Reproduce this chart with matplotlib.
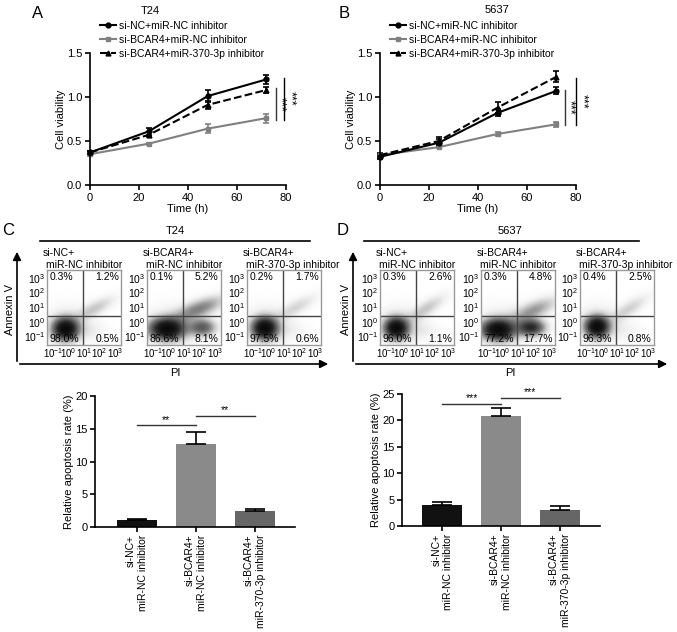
import numpy as np
import matplotlib
matplotlib.use('Agg')
import matplotlib.pyplot as plt
from matplotlib.lines import Line2D
from matplotlib.patches import FancyArrowPatch

plt.rcParams['font.family'] = ['Liberation Sans', 'DejaVu Sans']
plt.rcParams['mathtext.fontset'] = 'custom'
plt.rcParams['mathtext.rm'] = 'Liberation Sans'
plt.rcParams['mathtext.it'] = 'Liberation Sans:italic'
plt.rcParams['mathtext.bf'] = 'Liberation Sans:bold'
plt.rcParams['font.size'] = 8

# ---- data: cell viability (CCK-8) ----
time_h = [0, 24, 48, 72]
group_names = ['si-NC+miR-NC inhibitor', 'si-BCAR4+miR-NC inhibitor',
               'si-BCAR4+miR-370-3p inhibitor']

t24_nc = [0.37, 0.61, 1.01, 1.20]
t24_nc_err = [0.02, 0.04, 0.07, 0.05]
t24_bcar4 = [0.35, 0.47, 0.64, 0.76]
t24_bcar4_err = [0.02, 0.01, 0.05, 0.05]
t24_inh = [0.37, 0.57, 0.91, 1.08]
t24_inh_err = [0.02, 0.03, 0.05, 0.03]

c5637_nc = [0.32, 0.48, 0.82, 1.07]
c5637_nc_err = [0.02, 0.04, 0.04, 0.04]
c5637_bcar4 = [0.34, 0.43, 0.58, 0.69]
c5637_bcar4_err = [0.01, 0.01, 0.02, 0.03]
c5637_inh = [0.34, 0.50, 0.88, 1.23]
c5637_inh_err = [0.02, 0.05, 0.06, 0.06]

# significance spans (x, y from, y to)
t24_sig = [(75.8, 0.74, 1.10), (79.3, 0.74, 1.22)]
c5637_sig = [(75.4, 0.68, 1.08), (80.0, 0.68, 1.22)]

# ---- data: flow cytometry ----
flow_titles = [('si-NC+', 'miR-NC inhibitor'),
               ('si-BCAR4+', 'miR-NC inhibitor'),
               ('si-BCAR4+', 'miR-370-3p inhibitor')]
# quadrant percentages: UL, UR, LL, LR
t24_pct = [['0.3%', '1.2%', '98.0%', '0.5%'],
           ['0.1%', '5.2%', '86.6%', '8.1%'],
           ['0.2%', '1.7%', '97.5%', '0.6%']]
c5637_pct = [['0.3%', '2.6%', '96.0%', '1.1%'],
             ['0.3%', '4.8%', '77.2%', '17.7%'],
             ['0.4%', '2.5%', '96.3%', '0.8%']]
# gate positions (log10)
gate_x = 0.95
gate_y = 0.36
# population clouds (log10 cx, cy, sx, sy, angle deg, weight)
t24_clusters = [
    [(-0.2, -0.5, 0.5, 0.46, 0, 1.0), (-0.1, -0.3, 0.95, 0.85, 0, 0.09),
     (1.7, 0.9, 0.95, 0.32, 30, 0.13), (1.4, -0.6, 0.7, 0.4, 0, 0.04)],
    [(-0.1, -0.5, 0.7, 0.45, 0, 1.0), (0.2, -0.3, 1.1, 0.85, 0, 0.09),
     (2.2, -0.4, 0.55, 0.38, 0, 0.40), (2.0, 0.9, 1.1, 0.38, 22, 0.28)],
    [(-0.25, -0.45, 0.5, 0.46, 0, 1.0), (-0.1, -0.3, 0.95, 0.85, 0, 0.09),
     (1.8, 1.0, 0.95, 0.32, 30, 0.10), (1.5, -0.6, 0.7, 0.4, 0, 0.03)],
]
c5637_clusters = [
    [(-0.35, -0.45, 0.46, 0.44, 0, 1.0), (-0.2, -0.3, 0.95, 0.85, 0, 0.09),
     (1.6, 0.9, 0.95, 0.32, 35, 0.13), (1.4, -0.6, 0.7, 0.4, 0, 0.04)],
    [(-0.3, -0.55, 0.65, 0.44, 0, 1.0), (0.0, -0.3, 1.1, 0.85, 0, 0.09),
     (1.8, -0.4, 0.55, 0.36, 0, 0.65), (2.0, 0.8, 1.0, 0.38, 25, 0.22)],
    [(-0.3, -0.35, 0.46, 0.44, 0, 1.0), (-0.2, -0.2, 0.95, 0.85, 0, 0.09),
     (1.8, 0.9, 0.95, 0.32, 35, 0.11), (1.5, -0.6, 0.7, 0.4, 0, 0.03)],
]

# ---- data: apoptosis rate ----
bar_labels = ['si-NC+\nmiR-NC inhibitor', 'si-BCAR4+\nmiR-NC inhibitor',
              'si-BCAR4+\nmiR-370-3p inhibitor']
bar_colors = ['#111111', '#8a8a8a', '#666666']
t24_apop = [1.0, 12.6, 2.5]
t24_apop_err = [0.15, 1.9, 0.3]
c5637_apop = [3.9, 20.9, 3.1]
c5637_apop_err = [0.7, 1.5, 0.6]
t24_bar_sig = [(0, 1, 15.5, '**'), (1, 2, 17.0, '**')]
c5637_bar_sig = [(0, 1, 23.2, '***'), (1, 2, 24.2, '***')]

W, H = 677, 632
fig = plt.figure(figsize=(W / 100, H / 100), dpi=100)


def box(l, t, r, b):
    return [l / W, 1 - b / H, (r - l) / W, (b - t) / H]


def fx(x):
    return x / W


def fy(y):
    return 1 - y / H


def style_axes(ax):
    for s in ['top', 'right']:
        ax.spines[s].set_visible(False)
    for s in ['left', 'bottom']:
        ax.spines[s].set_linewidth(1.2)
    ax.tick_params(direction='out', length=3.5, width=1.2, labelsize=8, pad=2)


def line_panel(rect, nc, nce, bc, bce, ih, ihe, sig):
    ax = fig.add_axes(box(*rect))
    kw = dict(lw=1.5, ms=3.5, capsize=2.5, capthick=1.2, elinewidth=1.2, clip_on=False)
    ax.errorbar(time_h, bc, yerr=bce, color='#808080', marker='s', **kw)
    ax.errorbar(time_h, ih, yerr=ihe, color='black', marker='^', ls='--', **kw)
    ax.errorbar(time_h, nc, yerr=nce, color='black', marker='o', **kw)
    ax.set_xlim(0, 80)
    ax.set_ylim(0, 1.5)
    ax.set_xticks([0, 20, 40, 60, 80])
    ax.set_yticks([0, 0.5, 1.0, 1.5])
    ax.set_yticklabels(['0.0', '0.5', '1.0', '1.5'])
    ax.set_xlabel('Time (h)', fontsize=8, labelpad=1)
    ax.set_ylabel('Cell viability', fontsize=8, labelpad=1)
    style_axes(ax)
    for i, (x, y0, y1) in enumerate(sig):
        col = 'black' if i == 1 else '#333333'
        ax.plot([x, x], [y0, y1], color=col, lw=1, clip_on=False)
        ax.text(x + (1.7 if i == 0 else 2.6), (y0 + y1) / 2, '***', rotation=270,
                ha='center', va='center', fontsize=9)
    handles = [Line2D([], [], color='black', marker='o', ms=3.5, lw=1.5),
               Line2D([], [], color='#808080', marker='s', ms=3.5, lw=1.5),
               Line2D([], [], color='black', marker='^', ms=3.5, lw=1.5, ls='--')]
    x0 = rect[0] + 10
    ax.legend(handles, group_names, loc='upper left',
              bbox_to_anchor=(fx(x0), fy(21)), bbox_transform=fig.transFigure,
              frameon=False, fontsize=7.5, handlelength=1.5, handletextpad=0.35,
              labelspacing=0.38, borderpad=0, borderaxespad=0)
    return ax


line_panel((90, 53, 286, 185), t24_nc, t24_nc_err, t24_bcar4, t24_bcar4_err,
           t24_inh, t24_inh_err, t24_sig)
line_panel((380, 53, 576, 185), c5637_nc, c5637_nc_err, c5637_bcar4,
           c5637_bcar4_err, c5637_inh, c5637_inh_err, c5637_sig)
fig.text(fx(38), fy(14), 'A', fontsize=12, ha='center', va='center')
fig.text(fx(344), fy(14), 'B', fontsize=12, ha='center', va='center')
fig.text(fx(150), fy(11), 'T24', fontsize=8, ha='center', va='center')
fig.text(fx(497), fy(10), '5637', fontsize=8, ha='center', va='center')

# ---- flow panels ----
fxlim = (-1.4, 3.4)
fylim = (-1.6, 3.55)
gx, gy = np.meshgrid(np.linspace(*fxlim, 240), np.linspace(*fylim, 240))


def flow_panel(left, clusters, pct, titles):
    ax = fig.add_axes(box(left, 270, left + 74, 345))
    dens = np.zeros_like(gx)
    for cx, cy, sx, sy, ang, w in clusters:
        a = np.deg2rad(ang)
        u = (gx - cx) * np.cos(a) + (gy - cy) * np.sin(a)
        v = -(gx - cx) * np.sin(a) + (gy - cy) * np.cos(a)
        dens += w * np.exp(-0.5 * ((u / sx) ** 2 + (v / sy) ** 2))
    img = 1 - np.exp(-3 * dens)
    ax.imshow(img, extent=[*fxlim, *fylim], origin='lower', cmap='Greys',
              vmin=0, vmax=1, aspect='auto', interpolation='bilinear')
    ax.axvline(gate_x, color='#444444', lw=1)
    ax.axhline(gate_y, color='#444444', lw=1)
    ax.set_xlim(*fxlim)
    ax.set_ylim(*fylim)
    ticks = [-1, 0, 1, 2, 3]
    labels = [r'$10^{%d}$' % t for t in ticks]
    ax.set_xticks(ticks)
    ax.set_xticklabels(labels)
    ax.set_yticks(ticks)
    ax.set_yticklabels(labels)
    ax.tick_params(axis='x', length=0, labelsize=7, pad=1)
    ax.tick_params(axis='y', length=0, labelsize=7.5, pad=1)
    for s in ax.spines.values():
        s.set_color('#9a9a9a')
        s.set_linewidth(1)
    ax.text(0.04, 0.97, pct[0], transform=ax.transAxes, ha='left', va='top', fontsize=7.5)
    ax.text(0.97, 0.97, pct[1], transform=ax.transAxes, ha='right', va='top', fontsize=7.5)
    ax.text(0.04, 0.02, pct[2], transform=ax.transAxes, ha='left', va='bottom', fontsize=7.5)
    ax.text(0.97, 0.02, pct[3], transform=ax.transAxes, ha='right', va='bottom', fontsize=7.5)
    fig.text(fx(left - 4), fy(253), titles[0], ha='left', va='center', fontsize=7.5)
    fig.text(fx(left - 1), fy(265), titles[1], ha='left', va='center', fontsize=7.5)


for left, cl, pc, tt in zip([47, 147, 247], t24_clusters, t24_pct, flow_titles):
    flow_panel(left, cl, pc, tt)
for left, cl, pc, tt in zip([380, 481, 580], c5637_clusters, c5637_pct, flow_titles):
    flow_panel(left, cl, pc, tt)

for x0, x1, xt, name, ax_x, ar_end, let_x in [(40, 310, 175, 'T24', 17, 331, 8),
                                             (364, 639, 510, '5637', 353, 670, 343)]:
    fig.add_artist(Line2D([fx(x0), fx(x1)], [fy(241), fy(241)], color='black', lw=1.2))
    fig.text(fx(xt), fy(231), name, ha='center', va='center', fontsize=8)
    fig.add_artist(FancyArrowPatch((fx(ax_x), fy(364)), (fx(ax_x), fy(249)),
                                   transform=fig.transFigure, arrowstyle='-|>',
                                   mutation_scale=12, lw=1.2, color='black'))
    fig.add_artist(FancyArrowPatch((fx(ax_x), fy(364)), (fx(ar_end), fy(364)),
                                   transform=fig.transFigure, arrowstyle='-|>',
                                   mutation_scale=12, lw=1.2, color='black'))
    fig.text(fx(ax_x - 7), fy(310), 'Annexin V', rotation=90, ha='center',
             va='center', fontsize=8)
    fig.text(fx(xt), fy(373), 'PI', ha='center', va='center', fontsize=8)
    fig.text(fx(let_x), fy(231), 'C' if name == 'T24' else 'D', fontsize=12,
             ha='center', va='center')


# ---- bar panels ----
def bar_panel(rect, vals, errs, ymax, ystep, sig, xlim):
    ax = fig.add_axes(box(*rect))
    xs = np.arange(len(vals))
    ax.bar(xs, vals, width=0.69, color=bar_colors)
    ax.errorbar(xs, vals, yerr=[np.zeros(len(vals)), errs], fmt='none',
                ecolor='black', elinewidth=1.2, capsize=7, capthick=1.2)
    ax.set_xlim(*xlim)
    ax.set_ylim(0, ymax)
    ax.set_yticks(np.arange(0, ymax + 0.1, ystep))
    ax.set_xticks(xs)
    style_axes(ax)
    ax.set_xticklabels(bar_labels, rotation=90, va='top', ha='center',
                       multialignment='right', fontsize=7.5)
    ax.set_ylabel('Relative apoptosis rate (%)', fontsize=8, labelpad=1)
    for a, b, y, star in sig:
        ax.plot([a, b], [y, y], color='#333333', lw=1, clip_on=False)
        ax.text((a + b) / 2, y + ymax * 0.005, star, ha='center', va='bottom', fontsize=7.5)
    return ax


bar_panel((95, 396, 295, 527), t24_apop, t24_apop_err, 20, 5, t24_bar_sig, (-0.71, 2.68))
bar_panel((402, 394, 600, 526), c5637_apop, c5637_apop_err, 25, 5, c5637_bar_sig, (-0.68, 2.68))

fig.savefig('out.png', dpi=100)
